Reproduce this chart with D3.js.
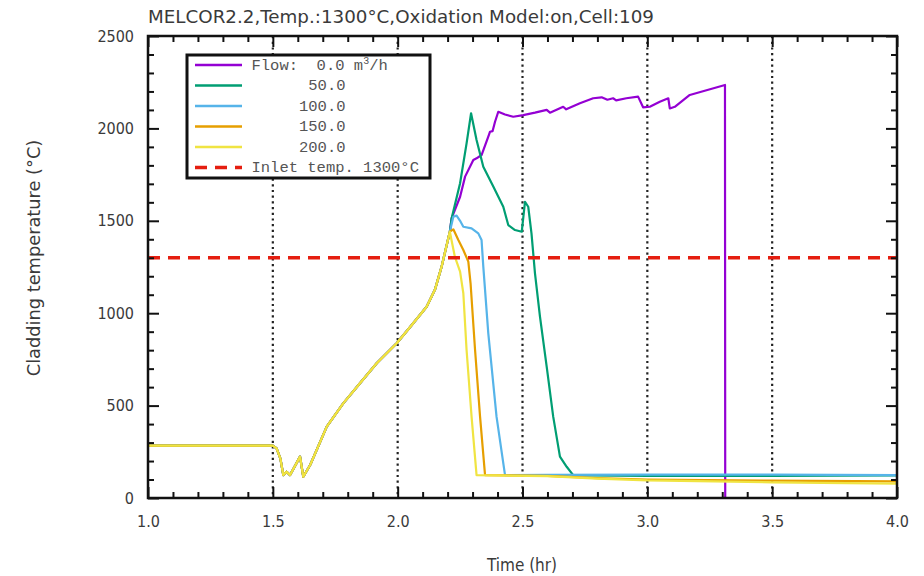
<!DOCTYPE html>
<html>
<head>
<meta charset="utf-8">
<script src="https://cdn.jsdelivr.net/npm/d3@7"></script>
<style>
  html, body { margin: 0; padding: 0; background: #fff; }
  svg { display: block; }
</style>
</head>
<body>
<svg id="chart" width="924" height="576"></svg>
<script>
// ---------------- DATA ----------------
const titleText = "MELCOR2.2,Temp.:1300\u00B0C,Oxidation Model:on,Cell:109";
const xLabel = "Time (hr)";
const yLabel = "Cladding temperature (\u00B0C)";
const xTicks = [1.0, 1.5, 2.0, 2.5, 3.0, 3.5, 4.0];
const yTicks = [0, 500, 1000, 1500, 2000, 2500];
const gridX = [1.5, 2.0, 2.5, 3.0, 3.5];
const inletTemp = 1300;

// common heat-up history shared by all flow cases (hr, °C)
const baseTime = [1.0, 1.50, 1.515, 1.53, 1.542, 1.555, 1.569, 1.609, 1.622, 1.65, 1.716, 1.782, 1.849, 1.916, 1.996, 2.05, 2.116, 2.15, 2.176, 2.209];
const baseTemp = [283, 283, 268, 215, 124, 142, 124, 224, 115, 180, 386, 512, 621, 729, 837, 925, 1035, 1130, 1252, 1441];

// flow 0.0 m3/h
const flow0Time = [2.216, 2.25, 2.27, 2.303, 2.316, 2.336, 2.363, 2.37, 2.38, 2.39, 2.403, 2.43, 2.463, 2.503, 2.55, 2.597, 2.61, 2.663, 2.675, 2.73, 2.783, 2.817, 2.84, 2.863, 2.875, 2.916, 2.963, 2.983, 3.01, 3.05, 3.084, 3.09, 3.11, 3.17, 3.311, 3.312];
const flow0Temp = [1513, 1630, 1739, 1829, 1838, 1856, 1955, 1982, 1985, 2036, 2090, 2075, 2063, 2072, 2085, 2100, 2085, 2117, 2103, 2136, 2163, 2168, 2155, 2163, 2152, 2163, 2172, 2114, 2117, 2144, 2163, 2108, 2117, 2181, 2235, 0];

// flow 50.0
const flow50Time = [2.216, 2.25, 2.276, 2.294, 2.316, 2.343, 2.383, 2.423, 2.443, 2.47, 2.497, 2.51, 2.523, 2.536, 2.55, 2.57, 2.597, 2.623, 2.65, 2.677, 2.703, 2.75, 3.0, 3.5, 4.0];
const flow50Temp = [1513, 1703, 1919, 2082, 1937, 1793, 1685, 1576, 1477, 1450, 1441, 1603, 1576, 1432, 1216, 981, 710, 440, 224, 169, 124, 122, 120, 120, 122];

// flow 100.0
const flow100Time = [2.223, 2.236, 2.25, 2.263, 2.296, 2.323, 2.336, 2.343, 2.363, 2.396, 2.43, 2.6, 3.0, 3.5, 4.0];
const flow100Temp = [1522, 1528, 1500, 1468, 1459, 1432, 1396, 1252, 891, 440, 124, 125, 126, 126, 124];

// flow 150.0
const flow150Time = [2.223, 2.243, 2.263, 2.283, 2.292, 2.31, 2.33, 2.35, 2.6, 2.8, 3.0, 3.5, 4.0];
const flow150Temp = [1454, 1396, 1342, 1279, 1162, 801, 440, 124, 120, 108, 100, 94, 90];

// flow 200.0
const flow200Time = [2.229, 2.25, 2.263, 2.276, 2.296, 2.316, 2.6, 2.8, 3.0, 3.5, 4.0];
const flow200Temp = [1306, 1225, 1108, 801, 440, 124, 118, 105, 95, 85, 78];

const seriesNames = ["Flow:  0.0 m", "50.0", "100.0", "150.0", "200.0"];
const seriesColors = ["#9400D3", "#009E73", "#56B4E9", "#E69F00", "#F0E442"];
const inletName = "Inlet temp. 1300\u00B0C";
const inletColor = "#E51E10";

// ---------------- CHART ----------------
const svg = d3.select("#chart");
const L = 148, R = 897, T = 36, B = 498;
const x = d3.scaleLinear().domain([1, 4]).range([L, R]);
const y = d3.scaleLinear().domain([0, 2500]).range([B, T]);
const font = "'DejaVu Sans Condensed', 'DejaVu Sans', sans-serif";
const fontReg = "'DejaVu Sans', sans-serif";
const txtColor = "#3a3a3a";

// gridlines (dotted)
svg.append("g").selectAll("line").data(gridX).join("line")
  .attr("x1", d => x(d)).attr("x2", d => x(d))
  .attr("y1", T).attr("y2", B)
  .attr("stroke", "#222").attr("stroke-width", 2.2)
  .attr("stroke-dasharray", "2.2,3.5");

// series
function mk(tArr, vArr, withBase) {
  const pts = [];
  if (withBase) baseTime.forEach((t, i) => pts.push([t, baseTemp[i]]));
  tArr.forEach((t, i) => pts.push([t, vArr[i]]));
  return pts;
}
const series = [
  mk(flow0Time, flow0Temp, true),
  mk(flow50Time, flow50Temp, true),
  mk(flow100Time, flow100Temp, true),
  mk(flow150Time, flow150Temp, true),
  mk(flow200Time, flow200Temp, true)
];
const line = d3.line().x(d => x(d[0])).y(d => y(d[1]));
svg.append("clipPath").attr("id", "clip").append("rect")
  .attr("x", L).attr("y", T).attr("width", R - L).attr("height", B - T);
svg.append("g").attr("clip-path", "url(#clip)").selectAll("path").data(series).join("path")
  .attr("d", line)
  .attr("fill", "none")
  .attr("stroke", (d, i) => seriesColors[i])
  .attr("stroke-width", 2.2)
  .attr("stroke-linejoin", "round");

// inlet temperature
svg.append("line")
  .attr("x1", x(1)).attr("x2", x(4))
  .attr("y1", y(inletTemp)).attr("y2", y(inletTemp))
  .attr("stroke", inletColor).attr("stroke-width", 3.5)
  .attr("stroke-dasharray", "12,8");

// axes with inward ticks (gnuplot style, mirrored)
const xMinor = d3.range(1.1, 4.0, 0.1).filter(v => Math.abs(v * 2 - Math.round(v * 2)) > 1e-6);
const yMinor = d3.range(100, 2500, 100).filter(v => v % 500 !== 0);
function axisG(axis, tr) { return svg.append("g").attr("transform", tr).call(axis); }
axisG(d3.axisBottom(x).tickValues(xTicks).tickFormat(d3.format(".1f")).tickSizeInner(-11).tickSizeOuter(0).tickPadding(18), `translate(0,${B})`);
axisG(d3.axisBottom(x).tickValues(xMinor).tickFormat("").tickSizeInner(-6).tickSizeOuter(0), `translate(0,${B})`);
axisG(d3.axisTop(x).tickValues(xTicks).tickFormat("").tickSizeInner(-11).tickSizeOuter(0), `translate(0,${T})`);
axisG(d3.axisTop(x).tickValues(xMinor).tickFormat("").tickSizeInner(-6).tickSizeOuter(0), `translate(0,${T})`);
axisG(d3.axisLeft(y).tickValues(yTicks).tickFormat(d3.format("d")).tickSizeInner(-11).tickSizeOuter(0).tickPadding(14), `translate(${L},0)`);
axisG(d3.axisLeft(y).tickValues(yMinor).tickFormat("").tickSizeInner(-6).tickSizeOuter(0), `translate(${L},0)`);
axisG(d3.axisRight(y).tickValues(yTicks).tickFormat("").tickSizeInner(-11).tickSizeOuter(0), `translate(${R},0)`);
axisG(d3.axisRight(y).tickValues(yMinor).tickFormat("").tickSizeInner(-6).tickSizeOuter(0), `translate(${R},0)`);
svg.selectAll(".domain").remove();
svg.selectAll(".tick line").attr("stroke", "#111").attr("stroke-width", 2);
svg.selectAll(".tick text").attr("font-family", font).attr("font-size", 16).attr("fill", txtColor);

// frame
svg.append("rect").attr("x", L).attr("y", T).attr("width", R - L).attr("height", B - T)
  .attr("fill", "none").attr("stroke", "#111").attr("stroke-width", 2.5);

// title and labels
svg.append("text").attr("x", L).attr("y", 23).text(titleText)
  .attr("font-family", fontReg).attr("font-size", 18.3).attr("fill", txtColor);
svg.append("text").attr("x", 522).attr("y", 571).attr("text-anchor", "middle").text(xLabel)
  .attr("font-family", font).attr("font-size", 17).attr("fill", txtColor);
svg.append("text").attr("transform", `translate(40,258) rotate(-90)`).attr("text-anchor", "middle").text(yLabel)
  .attr("font-family", fontReg).attr("font-size", 17.8).attr("fill", txtColor);

// legend
const lg = svg.append("g");
lg.append("rect").attr("x", 187).attr("y", 55).attr("width", 243).attr("height", 123)
  .attr("fill", "#fff").attr("stroke", "#111").attr("stroke-width", 3);
const mono = "'Liberation Mono', 'DejaVu Sans Mono', monospace";
const rowY = i => 65 + i * 20.5;
const numEnd = 345.5;
seriesNames.forEach((name, i) => {
  lg.append("line").attr("x1", 195).attr("x2", 242).attr("y1", rowY(i)).attr("y2", rowY(i))
    .attr("stroke", seriesColors[i]).attr("stroke-width", 2.5);
  const t = lg.append("text").attr("y", rowY(i) + 4.5)
    .attr("font-family", mono).attr("font-size", 15.5).attr("fill", "#555")
    .style("white-space", "pre");
  if (i === 0) {
    t.attr("x", 251.5);
    t.append("tspan").text(name);
    t.append("tspan").attr("dy", -6).attr("font-size", 10).text("3");
    t.append("tspan").attr("dy", 6).text("/h");
  } else {
    t.attr("x", numEnd).attr("text-anchor", "end").text(name);
  }
});
lg.append("line").attr("x1", 195).attr("x2", 242).attr("y1", rowY(5)).attr("y2", rowY(5))
  .attr("stroke", inletColor).attr("stroke-width", 3.5).attr("stroke-dasharray", "12,8");
lg.append("text").attr("x", 251.5).attr("y", rowY(5) + 4.5).text(inletName)
  .attr("font-family", mono).attr("font-size", 15.5).attr("fill", "#555");
</script>
</body>
</html>
